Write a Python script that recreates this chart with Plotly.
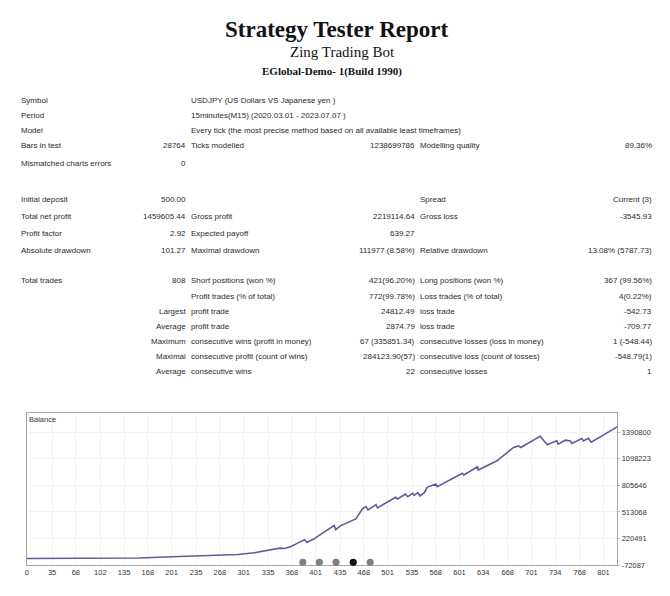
import plotly.graph_objects as go

W, H = 670, 596

# balance curve (trade number, balance)
trades = [0, 104, 155, 192, 224, 270, 293, 316, 335, 351, 358, 367, 376, 386, 389,
          399, 409, 427, 429, 436, 457, 466, 471, 474, 485, 487, 512, 515, 526, 529,
          536, 538, 543, 546, 552, 556, 568, 570, 605, 607, 626, 627, 653, 676, 683,
          686, 713, 723, 736, 738, 748, 755, 757, 771, 773, 780, 784, 806, 820]
balance = [500, 1500, 5000, 15700, 22300, 33300, 44200, 62900, 88100, 114500, 110000,
           132000, 169300, 205600, 176000, 216500, 271400, 362500, 318600, 362500,
           436000, 545700, 571000, 534800, 592900, 556700, 674100, 655500, 710400,
           680700, 718000, 696000, 724600, 688400, 724600, 783900, 820100, 790500,
           937500, 918900, 1010000, 973700, 1075800, 1222800, 1240000, 1222800,
           1346800, 1251400, 1295300, 1259000, 1302900, 1295300, 1266700, 1321600,
           1295300, 1324900, 1281000, 1387400, 1448900]

x_ticks = [0, 35, 68, 102, 135, 168, 201, 235, 268, 301, 335, 368, 401, 435, 468,
           501, 535, 568, 601, 634, 668, 701, 734, 768, 801]
y_ticks = [-72087, 220491, 513068, 805646, 1098223, 1390800]

# report text
title = "Strategy Tester Report"
subtitle = "Zing Trading Bot"
server = "EGlobal-Demo- 1(Build 1990)"

head_labels = ["Symbol", "Period", "Model", "Bars in test", "Mismatched charts errors"]
head_values = ["", "", "", "28764", "0"]
head_info = ["USDJPY (US Dollars VS Japanese yen )",
             "15minutes(M15) (2020.03.01 - 2023.07.07 )",
             "Every tick (the most precise method based on all available least timeframes)",
             "Ticks modelled", ""]
head_info_val = ["", "", "", "1238699786", ""]
head_q_label = ["", "", "", "Modelling quality", ""]
head_q_val = ["", "", "", "89.36%", ""]

labels1 = ["Initial deposit", "Total net profit", "Profit factor", "Absolute drawdown",
           "Total trades", "", "", "", "", "", ""]
values1 = ["500.00", "1459605.44", "2.92", "101.27", "808", "", "Largest", "Average",
           "Maximum", "Maximal", "Average"]
labels2 = ["", "Gross profit", "Expected payoff", "Maximal drawdown",
           "Short positions (won %)", "Profit trades (% of total)", "profit trade",
           "profit trade", "consecutive wins (profit in money)",
           "consecutive profit (count of wins)", "consecutive wins"]
values2 = ["", "2219114.64", "639.27", "111977 (8.58%)", "421(96.20%)", "772(99.78%)",
           "24812.49", "2874.79", "67 (335851.34)", "284123.90(57)", "22"]
labels3 = ["Spread", "Gross loss", "", "Relative drawdown", "Long positions (won %)",
           "Loss trades (% of total)", "loss trade", "loss trade",
           "consecutive losses (loss in money)", "consecutive loss (count of losses)",
           "consecutive losses"]
values3 = ["Current (3)", "-3545.93", "", "13.08% (5787.73)", "367 (99.56%)", "4(0.22%)",
           "-542.73", "-709.77", "1 (-548.44)", "-548.79(1)", "1"]

# layout in pixels
head_rows_y = [100.7, 115.7, 130.7, 146, 163.3]
stat_rows_y = [200, 217.3, 234, 251, 281, 296.7, 311.7, 326.7, 342.3, 357.3, 372.3]
cols = [(17, "left"), (187, "right"), (187.7, "left"), (416.5, "right"),
        (417, "left"), (653.5, "right")]

txt_font = dict(family="Liberation Sans", size=8, color="#2a2a2a")
KY = 0.9933  # the photographed page comes out slightly squeezed vertically


def px(x):
    return x / W


def py(y):
    return 1 - y / (H * KY)


annots = []


def put(text, x, y, align, font=txt_font):
    if not text:
        return
    annots.append(dict(text=text, x=px(x), y=py(y), xref="paper", yref="paper",
                       xanchor=align, yanchor="middle", showarrow=False, font=font))


put("<b>%s</b>" % title, 336, 30, "center", dict(family="Liberation Serif", size=23, color="#111"))
put(subtitle, 342, 52.5, "center", dict(family="Liberation Serif", size=15, color="#111"))
put("<b>%s</b>" % server, 331, 71.5, "center", dict(family="Liberation Serif", size=11, color="#111"))

head_cols = [head_labels, head_values, head_info, head_info_val, head_q_label, head_q_val]
for c, col in enumerate(head_cols):
    for r, t in enumerate(col):
        put(t, cols[c][0], head_rows_y[r], cols[c][1])

stat_cols = [labels1, values1, labels2, values2, labels3, values3]
for c, col in enumerate(stat_cols):
    for r, t in enumerate(col):
        put(t, cols[c][0], stat_rows_y[r], cols[c][1])

put("Balance", 25, 420, "left", dict(family="Liberation Sans", size=7.5, color="#333"))

fig = go.Figure()
fig.add_trace(go.Scatter(x=trades, y=balance, mode="lines",
                         line=dict(color="#5d5c9c", width=1.6), hoverinfo="skip"))

# slider dots
shapes = []
dots_x = [301.7, 318.3, 335, 352.3, 369.3]
for i, dx in enumerate(dots_x):
    col = "#111" if i == 3 else "#7f7f7f"
    shapes.append(dict(type="circle", xref="paper", yref="paper",
                       x0=px(dx - 3.6), x1=px(dx + 3.6), y0=py(563.3 + 3.6), y1=py(563.3 - 3.6),
                       fillcolor=col, line=dict(width=0)))

fig.update_layout(
    width=W, height=H, autosize=False,
    margin=dict(l=0, r=0, t=0, b=0),
    paper_bgcolor="white", plot_bgcolor="white",
    showlegend=False, annotations=annots, shapes=shapes,
    xaxis=dict(domain=[px(25), px(617)], range=[0, 820], tickvals=x_ticks,
               ticktext=[str(v) for v in x_ticks], showgrid=True, gridcolor="#f2f2f2",
               zeroline=False, showline=True, linecolor="#a8a8a8", mirror=True,
               ticks="", tickfont=dict(family="Liberation Sans", size=7.5, color="#333")),
    yaxis=dict(domain=[py(566), py(414)], range=[-72087, 1599000], side="right",
               tickvals=y_ticks, ticktext=[str(v) for v in y_ticks], showgrid=True,
               gridcolor="#f2f2f2", zeroline=False, showline=True, linecolor="#a8a8a8",
               mirror=True, ticks="outside", ticklen=2, tickcolor="#bbb",
               tickfont=dict(family="Liberation Sans", size=7.5, color="#333")),
)

fig.write_html("out.html", config={"displayModeBar": False},
               post_script="document.body.style.margin='0';")
